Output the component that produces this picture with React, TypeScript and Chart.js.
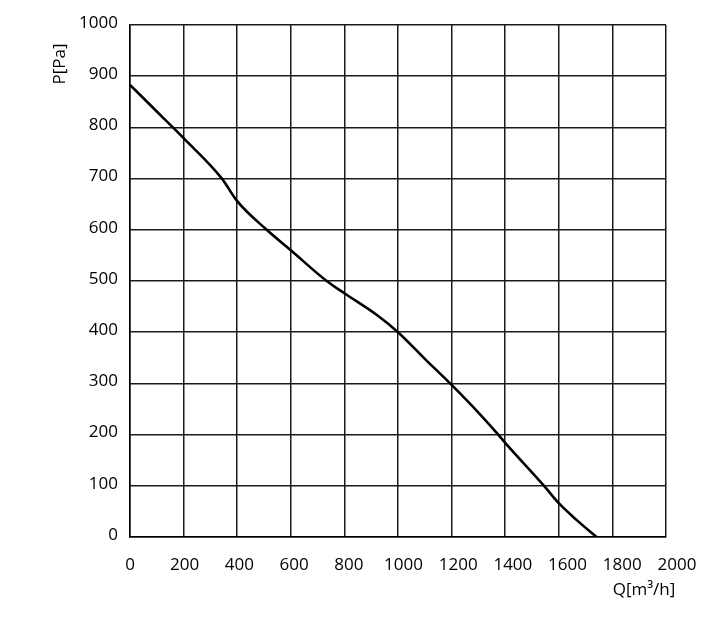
import { useEffect, useRef } from 'react';
import { Chart, registerables } from 'chart.js';

Chart.register(...registerables);

// flow rate Q [m³/h] and static pressure P [Pa]
const flowQ = [0, 100, 160, 200, 343, 400, 510, 600, 734, 800, 920, 1000, 1100, 1200, 1300, 1374, 1400, 1545, 1600, 1667, 1741];
const pressureP = [883, 831, 800, 779, 700, 656, 600, 560, 500, 476, 434, 400, 348, 297, 243, 200, 184, 100, 66, 33, 0];

const xTickValues = [0, 200, 400, 600, 800, 1000, 1200, 1400, 1600, 1800, 2000];
const yTickValues = [0, 100, 200, 300, 400, 500, 600, 700, 800, 900, 1000];

const FONT = '"Open Sans", sans-serif';

const axisTitles = {
  id: 'axisTitles',
  afterDraw(chart: Chart) {
    const { ctx } = chart;
    ctx.save();
    ctx.fillStyle = '#000';
    ctx.font = `17px ${FONT}`;
    ctx.textAlign = 'center';
    ctx.textBaseline = 'middle';
    ctx.fillText('Q[m³/h]', 644, 590);
    ctx.translate(60, 64);
    ctx.rotate(-Math.PI / 2);
    ctx.fillText('P[Pa]', 0, 0);
    ctx.restore();
  }
};

export default function App() {
  const canvasRef = useRef<HTMLCanvasElement>(null);
  const chartRef = useRef<Chart | null>(null);

  useEffect(() => {
    document.body.style.margin = '0';
    if (!canvasRef.current) return;
    const ctx = canvasRef.current.getContext('2d');
    if (!ctx) return;

    if (chartRef.current) chartRef.current.destroy();

    chartRef.current = new Chart(ctx, {
      type: 'line',
      data: {
        datasets: [
          {
            data: flowQ.map((q, i) => ({ x: q, y: pressureP[i] })),
            borderColor: '#000',
            borderWidth: 2.6,
            pointRadius: 0,
            cubicInterpolationMode: 'monotone',
            fill: false,
            xAxisID: 'x',
            yAxisID: 'y'
          }
        ]
      },
      options: {
        animation: false,
        responsive: false,
        layout: { padding: { top: 25, right: 54, left: 0, bottom: 0 } },
        plugins: {
          legend: { display: false },
          tooltip: { enabled: false }
        },
        scales: {
          x: {
            type: 'linear',
            position: 'bottom',
            min: 0,
            max: 2000,
            ticks: { display: false, stepSize: 200 },
            grid: { color: '#1a1a1a', lineWidth: 1.5, drawTicks: false },
            border: { color: '#000', width: 1.5 },
            afterFit: (s: any) => {
              s.height = 0;
            }
          },
          // label-only axis: the source spaces its x labels slightly wider than the grid
          x2: {
            type: 'linear',
            position: 'bottom',
            min: 0,
            max: 1960,
            grid: { display: false },
            border: { display: false },
            ticks: {
              autoSkip: false,
              maxRotation: 0,
              padding: 10,
              color: '#000',
              font: { family: FONT, size: 17 },
              callback: (v: any) => String(v)
            },
            afterBuildTicks: (s: any) => {
              s.ticks = xTickValues.map((v) => ({ value: v }));
            },
            afterFit: (s: any) => {
              s.height = 85;
            }
          },
          y: {
            type: 'linear',
            min: 0,
            max: 1000,
            ticks: {
              stepSize: 100,
              padding: 12,
              labelOffset: -2,
              color: '#000',
              font: { family: FONT, size: 17 },
              callback: (v: any) => String(v)
            },
            afterBuildTicks: (s: any) => {
              s.ticks = yTickValues.map((v) => ({ value: v }));
            },
            grid: { color: '#1a1a1a', lineWidth: 1.5, drawTicks: false },
            border: { color: '#000', width: 1.5 },
            afterFit: (s: any) => {
              s.width = 130;
            }
          }
        }
      },
      plugins: [axisTitles]
    });

    return () => {
      if (chartRef.current) {
        chartRef.current.destroy();
        chartRef.current = null;
      }
    };
  }, []);

  return (
    <div style={{ width: 720, height: 622, background: '#fff' }}>
      <canvas ref={canvasRef} width={720} height={622} />
    </div>
  );
}
